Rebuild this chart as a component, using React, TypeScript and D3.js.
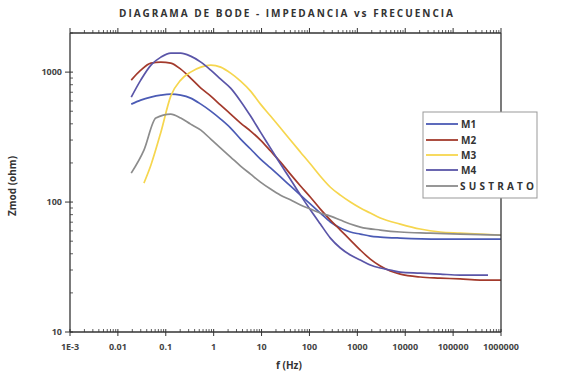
import React from "react";
import * as d3 from "d3";

const TITLE = "DIAGRAMA DE BODE - IMPEDANCIA vs FRECUENCIA";
const X_LABEL = "f (Hz)";
const Y_LABEL = "Zmod (ohm)";
const X_TICKS = [1e-3, 1e-2, 1e-1, 1, 10, 100, 1000, 10000, 100000, 1000000];
const X_TICK_LABELS = ["1E-3", "0.01", "0.1", "1", "10", "100", "1000", "10000", "100000", "1000000"];
const Y_TICKS = [10, 100, 1000];
const Y_TICK_LABELS = ["10", "100", "1000"];

// [frequency Hz, |Z| ohm]
const M1: [number, number][] = [
  [0.019, 567], [0.03, 609], [0.049, 642], [0.079, 665], [0.127, 677], [0.205, 665], [0.33, 631],
  [0.54, 567], [0.87, 501], [1.4, 435], [2.26, 371], [3.65, 305], [5.9, 256], [9.5, 214],
  [15.4, 183], [24.9, 156], [40, 133], [65, 113], [105, 96.5], [169, 82.3], [274, 70.2],
  [442, 63.1], [715, 58.8], [1155, 56.7], [1866, 54.7], [3015, 53.8], [7870, 52.8],
  [53600, 51.9], [365000, 51.9], [1000000, 51.9],
];
const M2: [number, number][] = [
  [0.019, 868], [0.03, 1036], [0.049, 1173], [0.079, 1194], [0.127, 1173], [0.205, 1054], [0.33, 899],
  [0.54, 753], [0.87, 654], [1.4, 557], [2.26, 475], [3.65, 405], [5.9, 352], [9.5, 300],
  [15.4, 247], [24.9, 203], [40, 164], [65, 133], [105, 109], [169, 88.3], [274, 72.7],
  [442, 60.9], [715, 51.0], [1155, 42.7], [1866, 36.4], [3015, 32.2], [4870, 29.5], [7870, 27.9],
  [20500, 26.5], [53600, 26.0], [140000, 25.6], [365000, 25.1], [1000000, 25.1],
];
const M3: [number, number][] = [
  [0.035, 140], [0.049, 193], [0.079, 345], [0.127, 654], [0.205, 868], [0.33, 1000], [0.54, 1092],
  [0.87, 1132], [1.4, 1092], [2.26, 982], [3.65, 852], [5.9, 714], [9.5, 567], [15.4, 459],
  [24.9, 371], [40, 300], [65, 242], [105, 196], [169, 158], [274, 130], [442, 113], [715, 100],
  [1155, 89.9], [1866, 82.3], [3015, 75.3], [7870, 67.7], [20500, 62.0], [53600, 58.8],
  [140000, 57.7], [365000, 56.7], [1000000, 55.7],
];
const M4: [number, number][] = [
  [0.019, 642], [0.03, 868], [0.049, 1132], [0.079, 1304], [0.127, 1400], [0.205, 1400], [0.33, 1327],
  [0.54, 1194], [0.87, 1036], [1.4, 883], [2.26, 753], [3.65, 598], [5.9, 459], [9.5, 345],
  [15.4, 260], [24.9, 196], [40, 150], [65, 113], [105, 86.8], [169, 67.7], [274, 52.8],
  [442, 44.3], [715, 39.1], [1155, 35.8], [1866, 32.8], [3015, 31.1], [4870, 30.0], [7870, 28.9],
  [20500, 28.4], [53600, 27.9], [140000, 27.4], [536000, 27.4],
];
const SUSTRATO: [number, number][] = [
  [0.019, 167], [0.035, 251], [0.062, 443], [0.127, 475], [0.205, 443], [0.33, 398], [0.54, 358],
  [0.87, 305], [1.4, 260], [2.26, 222], [3.65, 189], [5.9, 164], [9.5, 142.5], [15.4, 126],
  [24.9, 113], [40, 104], [65, 94.8], [105, 88.3], [169, 82.3], [274, 78], [442, 72.7],
  [715, 67.7], [1155, 64.2], [3015, 60.9], [7870, 58.8], [33200, 57.7], [140000, 56.7],
  [1000000, 55.7],
];

const SERIES_NAMES = ["M1", "M2", "M3", "M4", "SUSTRATO"];
const SERIES_DATA = [M1, M2, M3, M4, SUSTRATO];
const SERIES_COLORS = ["#4b5bb5", "#a33a2c", "#f6d64e", "#5a55a8", "#8c8c8c"];

export default function App() {
  const W = 579, H = 377;
  const left = 70, right = 501, top = 33, bottom = 332;
  const x = d3.scaleLog().domain([1e-3, 1e6]).range([left, right]);
  const y = d3.scaleLog().domain([10, 2000]).range([bottom, top]);
  const line = d3
    .line<[number, number]>()
    .x((d) => x(d[0]))
    .y((d) => y(d[1]))
    .curve(d3.curveMonotoneX);

  const xMinor: number[] = [];
  for (let e = -3; e < 6; e++) for (let k = 2; k <= 9; k++) xMinor.push(k * Math.pow(10, e));
  const yMinor: number[] = [];
  for (let e = 1; e < 4; e++) for (let k = 2; k <= 9; k++) { const v = k * Math.pow(10, e); if (v <= 2000) yMinor.push(v); }

  const axisColor = "#333";
  const font = "'Open Sans', 'DejaVu Sans', sans-serif";
  const legY = [124, 140, 155, 170, 186];

  return (
    <svg width={W} height={H} style={{ position: "absolute", left: 0, top: 0, background: "#fff" }} fontFamily={font}>
      <rect x={0} y={0} width={W} height={H} fill="#fff" />
      <text x={286} y={17} textAnchor="middle" fontSize={10} fontWeight="bold" fill="#333"
        textLength={334} lengthAdjust="spacing">{TITLE}</text>

      {SERIES_DATA.map((d, i) => (
        <path key={SERIES_NAMES[i]} d={line(d) || ""} fill="none" stroke={SERIES_COLORS[i]} strokeWidth={1.7} />
      ))}

      {/* frame */}
      <line x1={left} y1={top} x2={left} y2={bottom} stroke={axisColor} strokeWidth={1.3} />
      <line x1={left} y1={bottom} x2={right} y2={bottom} stroke={axisColor} strokeWidth={1.3} />
      <line x1={left} y1={top} x2={right} y2={top} stroke={axisColor} strokeWidth={1.3} />
      <line x1={right} y1={top} x2={right} y2={bottom} stroke={axisColor} strokeWidth={1.3} />

      {/* x ticks */}
      {X_TICKS.map((t) => (
        <g key={"xt" + t}>
          <line x1={x(t)} x2={x(t)} y1={bottom - 3} y2={bottom + 4} stroke={axisColor} />
          <line x1={x(t)} x2={x(t)} y1={top} y2={top - 5} stroke={axisColor} />
        </g>
      ))}
      {xMinor.map((t) => (
        <g key={"xm" + t}>
          <line x1={x(t)} x2={x(t)} y1={bottom} y2={bottom - 3} stroke={axisColor} strokeWidth={0.8} />
          <line x1={x(t)} x2={x(t)} y1={top} y2={top - 3} stroke={axisColor} strokeWidth={0.8} />
        </g>
      ))}
      {X_TICKS.map((t, i) => (
        <text key={"xl" + t} x={x(t)} y={350} textAnchor="middle" fontSize={9} fontWeight="bold" fill="#444">
          {X_TICK_LABELS[i]}
        </text>
      ))}

      {/* y ticks */}
      {Y_TICKS.map((t, i) => (
        <g key={"yt" + t}>
          <line x1={left - 5} x2={left + 3} y1={y(t)} y2={y(t)} stroke={axisColor} />
          <text x={left - 8} y={y(t) + 3} textAnchor="end" fontSize={9} fontWeight="bold" fill="#444">
            {Y_TICK_LABELS[i]}
          </text>
        </g>
      ))}
      {yMinor.map((t) => (
        <line key={"ym" + t} x1={left} x2={left + 3} y1={y(t)} y2={y(t)} stroke={axisColor} strokeWidth={0.8} />
      ))}

      <text x={289} y={369} textAnchor="middle" fontSize={10} fontWeight="bold" fill="#333">{X_LABEL}</text>
      <text transform={`translate(16,186) rotate(-90)`} textAnchor="middle" fontSize={10} fontWeight="bold" fill="#333">
        {Y_LABEL}
      </text>

      {/* legend */}
      <rect x={423} y={112} width={114} height={86} fill="#fff" stroke="#999" strokeWidth={1} />
      {SERIES_NAMES.map((n, i) => (
        <g key={"lg" + n}>
          <line x1={426} x2={458} y1={legY[i]} y2={legY[i]} stroke={SERIES_COLORS[i]} strokeWidth={1.8} />
          {n === "SUSTRATO" ? (
            <text x={460} y={legY[i] + 4} fontSize={10} fontWeight="bold" fill="#333" textLength={74} lengthAdjust="spacing">{n}</text>
          ) : (
            <text x={461} y={legY[i] + 4} fontSize={10} fontWeight="bold" fill="#333">{n}</text>
          )}
        </g>
      ))}
    </svg>
  );
}
